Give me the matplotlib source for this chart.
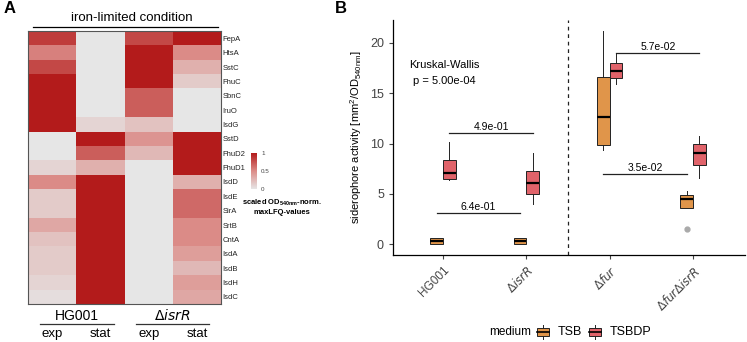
import numpy as np
import matplotlib
matplotlib.use('Agg')
import matplotlib.pyplot as plt
from matplotlib.colors import LinearSegmentedColormap
from matplotlib.patches import Rectangle

# ---- panel A data ----
proteins = ['FepA', 'HtsA', 'SstC', 'FhuC', 'SbnC', 'IruO', 'IsdG', 'SstD',
            'FhuD2', 'FhuD1', 'IsdD', 'IsdE', 'SirA', 'SrtB', 'CntA', 'IsdA',
            'IsdB', 'IsdH', 'IsdC']
hg001_exp = [0.85, 0.55, 0.8, 1, 1, 1, 1, 0, 0, 0.1, 0.5, 0.15, 0.15, 0.35,
             0.2, 0.15, 0.15, 0.1, 0.05]
hg001_stat = [0, 0, 0, 0, 0, 0, 0.1, 1, 0.7, 0.3, 1, 1, 1, 1, 1, 1, 1, 1, 1]
isrr_exp = [0.8, 1, 1, 1, 0.7, 0.7, 0.2, 0.45, 0.25, 0, 0, 0, 0, 0, 0, 0, 0,
            0, 0]
isrr_stat = [1, 0.5, 0.3, 0.15, 0, 0, 0, 1, 1, 1, 0.3, 0.65, 0.65, 0.5, 0.5,
             0.4, 0.25, 0.4, 0.35]

# ---- panel B data (box stats: whislo, q1, med, q3, whishi) ----
strains = ['HG001', r'$\Delta\it{isrR}$', r'$\Delta\it{fur}$',
           r'$\Delta\it{fur}\Delta\it{isrR}$']
tsb_stats = [(0.0, 0.05, 0.3, 0.6, 0.65),
             (0.0, 0.05, 0.3, 0.57, 0.62),
             (9.4, 9.9, 12.6, 16.65, 21.2),
             (3.6, 3.6, 4.5, 4.9, 5.3)]
tsbdp_stats = [(6.4, 6.45, 7.1, 8.35, 10.2),
               (4.0, 5.0, 6.05, 7.25, 9.1),
               (15.9, 16.5, 17.25, 18.05, 18.9),
               (6.6, 7.9, 9.1, 9.95, 10.75)]
tsb_outliers = [[], [], [], [1.5]]
media = ['TSB', 'TSBDP']
# (label, medium, strain i, strain j, height)
pvals = [('4.9e-01', 'TSBDP', 0, 1, 11.05),
         ('6.4e-01', 'TSB', 0, 1, 3.05),
         ('5.7e-02', 'TSBDP', 2, 3, 19.0),
         ('3.5e-02', 'TSB', 2, 3, 7.0)]

plt.rcParams['font.family'] = ['Liberation Sans', 'DejaVu Sans']

fig = plt.figure(figsize=(7.47, 3.42), dpi=100)

# ================= panel A =================
ax = fig.add_axes([0.0375, 0.111, 0.2585, 0.798])
mat = np.array([hg001_exp, hg001_stat, isrr_exp, isrr_stat]).T
cmap = LinearSegmentedColormap.from_list('gr', ['#e6e6e6', '#dc8c88', '#b31b1b'])
im = ax.imshow(mat, cmap=cmap, vmin=0, vmax=1, aspect='auto',
               interpolation='nearest')
ax.set_xticks([])
ax.yaxis.tick_right()
ax.set_yticks(range(len(proteins)))
ax.set_yticklabels(proteins, fontsize=5.5, color='#222222')
ax.tick_params(axis='y', length=0, pad=1)
for s in ax.spines.values():
    s.set_color('#555555')
    s.set_linewidth(0.8)

fig.text(0.177, 0.948, 'iron-limited condition', ha='center', va='center',
         fontsize=9.5)
fig.add_artist(plt.Line2D([0.044, 0.292], [0.921, 0.921], color='black', lw=0.9,
                          transform=fig.transFigure))
groups = ['HG001', r'$\Delta\it{isrR}$']
for g, x0, x1 in zip(groups, [0.053, 0.182], [0.152, 0.28]):
    fig.text((x0 + x1) / 2, 0.077, g, ha='center', va='center', fontsize=10)
    fig.add_artist(plt.Line2D([x0, x1], [0.052, 0.052], color='#333333',
                              lw=0.9, transform=fig.transFigure))
for k, lab in enumerate(['exp', 'stat', 'exp', 'stat']):
    fig.text(0.0375 + 0.2585 * (k + 0.5) / 4, 0.022, lab, ha='center',
             va='center', fontsize=9.5)

cax = fig.add_axes([0.336, 0.447, 0.008, 0.105])
cb = fig.colorbar(im, cax=cax, ticks=[0, 0.5, 1])
cb.ax.tick_params(labelsize=4.5, length=2, width=0.5, color='white', pad=1)
cb.outline.set_visible(False)
cb.ax.set_yticklabels(['0', '0.5', '1'], color='#444444')
fig.text(0.378, 0.396, 'scaled OD$_{\\mathregular{540nm}}$-norm.\nmaxLFQ-values',
         ha='center', va='center', fontsize=5.5, fontweight='bold',
         linespacing=1.2)

fig.text(0.005, 0.975, 'A', fontsize=12, fontweight='bold', va='center')
fig.text(0.448, 0.975, 'B', fontsize=12, fontweight='bold', va='center')

# ================= panel B =================
bx = fig.add_axes([0.526, 0.254, 0.471, 0.688])
colors = {'TSB': '#e0954a', 'TSBDP': '#e0636a'}
off = 0.077
w = 0.15
pos = np.arange(1, len(strains) + 1)


def to_bxp(stats, outl):
    out = []
    for s, f in zip(stats, outl):
        out.append(dict(whislo=s[0], q1=s[1], med=s[2], q3=s[3], whishi=s[4],
                        fliers=f))
    return out


for stats, outl, m, d in [(tsb_stats, tsb_outliers, 'TSB', -off),
                          (tsbdp_stats, [[]] * 4, 'TSBDP', off)]:
    bx.bxp(to_bxp(stats, outl), positions=pos + d, widths=w,
           patch_artist=True, showcaps=False, manage_ticks=False,
           boxprops=dict(facecolor=colors[m], edgecolor='#222222',
                         linewidth=0.7),
           medianprops=dict(color='black', linewidth=1.6),
           whiskerprops=dict(color='#222222', linewidth=0.7),
           flierprops=dict(marker='o', markerfacecolor='#aaaaaa',
                           markeredgecolor='#aaaaaa', markersize=3.5))

for lab, med, i, j, h in pvals:
    d = -off if med == 'TSB' else off
    bx.plot([pos[i] + d, pos[j] + d], [h, h], color='#222222', lw=0.9)
    bx.text((pos[i] + pos[j]) / 2 + d, h + 0.1, lab, ha='center', va='bottom',
            fontsize=7.5)

bx.axvline(2.5, color='#222222', lw=0.9, ls=(0, (3, 3)))
bx.text(0.595, 17.8, 'Kruskal-Wallis', fontsize=8, va='center')
bx.text(0.64, 16.2, 'p = 5.00e-04', fontsize=8, va='center')

bx.set_xlim(0.4, 4.62)
bx.set_ylim(-1.1, 22.3)
bx.set_yticks([0, 5, 10, 15, 20])
bx.set_xticks(pos)
bx.set_xticklabels(strains, rotation=45, ha='right', rotation_mode='anchor',
                   fontsize=8.5, color='#444444')
bx.tick_params(axis='y', labelsize=9, colors='#444444', length=3)
bx.tick_params(axis='x', length=3, colors='#444444')
for sp in ['top', 'right']:
    bx.spines[sp].set_visible(False)
for sp in ['left', 'bottom']:
    bx.spines[sp].set_linewidth(0.9)
bx.set_ylabel('siderophore activity [mm$^{\\mathregular{2}}$/OD$_{\\mathregular{540nm}}$]',
              fontsize=8)

# legend drawn in a small pixel-coordinate axes under panel B
lg = fig.add_axes([480 / 747, 0, 180 / 747, 24 / 342])
lg.set_xlim(480, 660)
lg.set_ylim(342, 318)
lg.axis('off')
lg.text(489, 332, 'medium', fontsize=8.5, va='center')
for m, kx, tx in zip(media, [537, 589], [558, 610]):
    lg.add_patch(Rectangle((kx, 328), 12, 8, facecolor=colors[m],
                           edgecolor='#222222', lw=0.7))
    lg.plot([kx, kx + 12], [332, 332], color='black', lw=1.2)
    lg.plot([kx + 6, kx + 6], [325, 328], color='#222222', lw=0.7)
    lg.plot([kx + 6, kx + 6], [336, 339], color='#222222', lw=0.7)
    lg.text(tx, 332, m, fontsize=9, va='center')

fig.savefig('out.png', dpi=100)
